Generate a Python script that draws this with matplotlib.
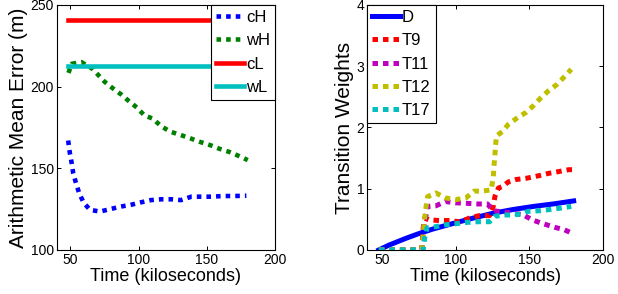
import matplotlib
matplotlib.use('Agg')
import matplotlib.pyplot as plt

plt.rcParams['font.family'] = ['Liberation Sans', 'DejaVu Sans']

# left panel: arithmetic mean error
ch_t = [48.3, 49.5, 50.7, 52, 54, 56.4, 59.6, 64.3, 71.7, 79.3, 86.5, 93.8, 101, 109,
        116.5, 124, 131, 138.7, 146, 154, 161.5, 170, 179]
ch_err = [167, 159.5, 154, 147, 141, 134.7, 129, 124.5, 123.5, 125, 126.5, 127.5, 129, 130.5,
          131, 131, 130.5, 132.6, 132.6, 132.6, 133, 133, 133.2]
wh_t = [48.5, 51, 58, 66, 70.5, 75, 81, 87.5, 93, 99, 104, 110, 117, 123, 131, 138, 145.5,
        153, 159, 166.5, 173, 180]
wh_err = [208.4, 214, 215, 211, 207, 203, 199, 195, 191, 187, 182.5, 180.5, 175.5, 172.5,
          170.3, 168.3, 166, 164, 162, 160, 157.7, 155]
const_t = [48.5, 180]
cl_err = [241, 241]
wl_err = [212.7, 212.7]

# right panel: transition weights
d_t = [48, 55, 66.4, 75.5, 84.5, 98, 112, 125.5, 139, 152.7, 166, 180]
d_w = [0.0, 0.08, 0.19, 0.27, 0.34, 0.43, 0.52, 0.6, 0.66, 0.71, 0.75, 0.80]
t9_t = [48, 77, 78, 79, 82, 89, 96, 102.7, 109.5, 116, 123, 125.5, 126.6, 129, 132, 135.7,
        141, 148, 156, 163, 170, 176.6, 180]
t9_w = [0, 0, 0.35, 0.52, 0.49, 0.48, 0.48, 0.46, 0.52, 0.56, 0.56, 0.71, 0.87, 1.01, 1.04,
        1.11, 1.15, 1.17, 1.21, 1.25, 1.28, 1.31, 1.31]
t11_t = [48, 77, 78.5, 81, 86.6, 93, 100, 108, 115, 121.6, 125.5, 132, 139, 146, 152, 159,
         167, 173.6, 180]
t11_w = [0, 0, 0.37, 0.71, 0.72, 0.79, 0.77, 0.76, 0.75, 0.75, 0.64, 0.62, 0.6, 0.57, 0.49,
         0.43, 0.37, 0.33, 0.26]
t12_t = [48, 77, 77.7, 79, 80, 81, 86.6, 93, 100, 107, 112.5, 118, 124, 125.5, 126, 126.6,
         127, 127.7, 132, 135.7, 142, 148, 152.5, 158, 163, 168.6, 173, 178.4]
t12_w = [0, 0, 0.16, 0.52, 0.71, 0.87, 0.93, 0.85, 0.82, 0.85, 0.96, 0.96, 0.98, 1.17, 1.37,
         1.53, 1.69, 1.86, 1.94, 2.05, 2.16, 2.25, 2.35, 2.49, 2.60, 2.70, 2.81, 2.95]
t17_t = [48, 78, 79, 80.6, 86.6, 93, 101, 108, 115, 123, 126.6, 133, 139, 145, 149, 157, 164,
         170.5, 178.4]
t17_w = [0, 0, 0.19, 0.36, 0.38, 0.41, 0.43, 0.45, 0.46, 0.46, 0.55, 0.57, 0.57, 0.59, 0.63,
         0.64, 0.66, 0.68, 0.71]

BLUE, GREEN, RED = (0, 0, 1), (0, 0.5, 0), (1, 0, 0)
CYAN, MAGENTA, OLIVE = (0, 0.75, 0.75), (0.75, 0, 0.75), (0.75, 0.75, 0)

fig = plt.figure(figsize=(6.18, 2.94), dpi=100)
ax1 = fig.add_axes([0.092, 0.150, 0.353, 0.833])
ax2 = fig.add_axes([0.594, 0.150, 0.382, 0.833])

dash_l = (0, (1.0, 1.1))
ax1.plot(ch_t, ch_err, color=BLUE, lw=3.3, ls=dash_l, dash_capstyle='butt', label='cH')
ax1.plot(wh_t, wh_err, color=GREEN, lw=3.3, ls=dash_l, dash_capstyle='butt', label='wH')
ax1.plot(const_t, cl_err, color=RED, lw=3.3, label='cL')
ax1.plot(const_t, wl_err, color=CYAN, lw=3.3, label='wL')
ax1.set_xlim(40, 200)
ax1.set_ylim(100, 250)
ax1.set_xticks([50, 100, 150, 200])
ax1.set_yticks([100, 150, 200, 250])
ax1.set_xlabel('Time (kiloseconds)', fontsize=13, labelpad=1)
ax1.set_ylabel('Arithmetic Mean Error (m)', fontsize=15, labelpad=2)

dash_r = (0, (1.1, 1.0))
ax2.plot(d_t, d_w, color=BLUE, lw=3.6, label='D')
ax2.plot(t9_t, t9_w, color=RED, lw=3.6, ls=dash_r, dash_capstyle='butt', label='T9')
ax2.plot(t11_t, t11_w, color=MAGENTA, lw=3.6, ls=dash_r, dash_capstyle='butt', label='T11')
ax2.plot(t12_t, t12_w, color=OLIVE, lw=3.6, ls=dash_r, dash_capstyle='butt', label='T12')
ax2.plot(t17_t, t17_w, color=CYAN, lw=3.6, ls=dash_r, dash_capstyle='butt', label='T17')
ax2.set_xlim(40, 200)
ax2.set_ylim(0, 4)
ax2.set_xticks([50, 100, 150, 200])
ax2.set_yticks([0, 1, 2, 3, 4])
ax2.set_xlabel('Time (kiloseconds)', fontsize=13, labelpad=1)
ax2.set_ylabel('Transition Weights', fontsize=15, labelpad=2)

for ax in (ax1, ax2):
    ax.tick_params(direction='in', top=True, right=True, length=3, width=0.7,
                   labelsize=10, pad=2)
    for s in ax.spines.values():
        s.set_linewidth(0.8)

leg_kw = dict(fontsize=12, frameon=True, fancybox=False, borderaxespad=0,
              handlelength=1.65, handletextpad=0.15, labelspacing=0.5,
              borderpad=0.3, framealpha=1)
l1 = ax1.legend(loc='upper right', **leg_kw)
l2 = ax2.legend(loc='upper left', **leg_kw)
for lg in (l1, l2):
    lg.get_frame().set_edgecolor('black')
    lg.get_frame().set_linewidth(0.8)

fig.savefig('out.png', dpi=100)
